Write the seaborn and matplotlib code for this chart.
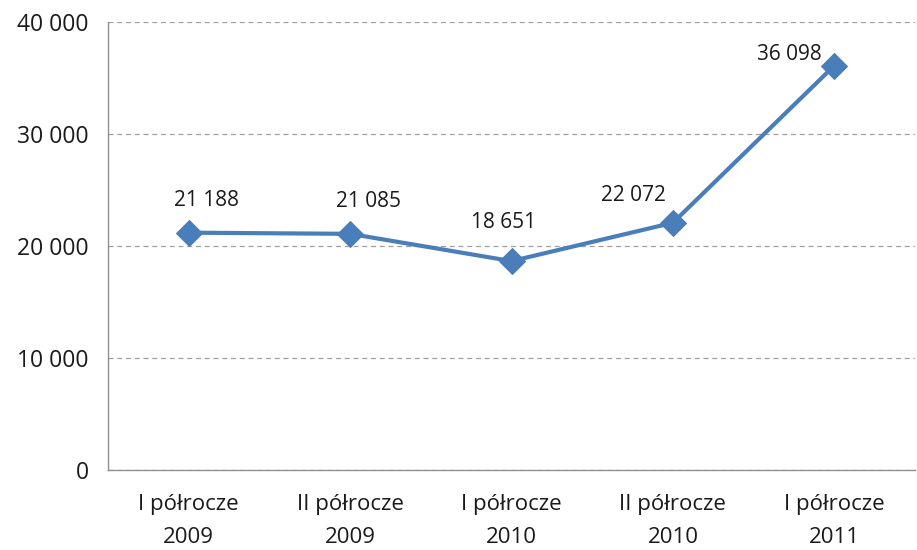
import matplotlib
matplotlib.use('Agg')
import matplotlib.pyplot as plt
import seaborn as sns
import pandas as pd
from matplotlib.ticker import FuncFormatter, FixedLocator

# data
categories = ['I półrocze\n2009', 'II półrocze\n2009', 'I półrocze\n2010',
              'II półrocze\n2010', 'I półrocze\n2011']
values = [21188, 21085, 18651, 22072, 36098]

df = pd.DataFrame({'okres': categories, 'wartosc': values})

sns.set_style('white')
plt.rcParams['font.family'] = ['Open Sans', 'DejaVu Sans']

fig = plt.figure(figsize=(9.17, 5.5), dpi=100)
ax = fig.add_axes([0.1178, 0.1455, 0.88, 0.8145])

blue = '#4A7EBB'
sns.lineplot(data=df, x='okres', y='wartosc', ax=ax, color=blue, linewidth=3,
             marker='D', markersize=13, markeredgecolor=blue, sort=False)

fmt = lambda v: f'{int(v):,}'.replace(',', ' ')

# data labels (offsets in pixels, as placed in the original)
offsets = [(18, 32), (18, 32), (-8, 39), (-39, 27), (-45, 11)]
for i, (v, off) in enumerate(zip(values, offsets)):
    ax.annotate(fmt(v), (i, v), xytext=(off[0] * 0.72, off[1] * 0.72),
                textcoords='offset points', ha='center', va='center',
                fontsize=15, color='#1a1a1a')

ax.set_xlim(-0.5, len(categories) - 0.5)
ax.set_ylim(0, 40000)
ax.set_yticks([0, 10000, 20000, 30000, 40000])
ax.yaxis.set_major_formatter(FuncFormatter(lambda v, p: fmt(v)))
ax.yaxis.grid(True, linestyle=(0, (4, 3)), color='#A0A0A0', linewidth=0.9)
ax.set_axisbelow(True)

ax.set_xlabel('')
ax.set_ylabel('')
ax.set_xticks(range(len(categories)))
ax.set_xticklabels(categories, linespacing=1.75)
ax.xaxis.set_minor_locator(FixedLocator([i - 0.5 for i in range(len(categories) + 1)]))
ax.tick_params(axis='x', which='major', length=0, pad=17, labelsize=16, colors='#1a1a1a')
ax.tick_params(axis='x', which='minor', length=6, color='#909090', direction='out')
ax.tick_params(axis='y', length=6, color='#909090', direction='out', labelsize=16.5,
               colors='#1a1a1a', pad=8)
for lbl in ax.get_yticklabels():
    lbl.set_color('#1a1a1a')

for s in ['top', 'right']:
    ax.spines[s].set_visible(False)
for s in ['left', 'bottom']:
    ax.spines[s].set_color('#909090')
    ax.spines[s].set_linewidth(1)

fig.savefig('out.png', dpi=100)
